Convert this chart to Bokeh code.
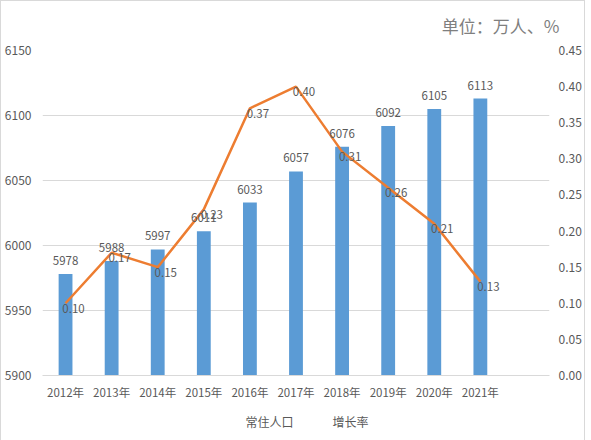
from bokeh.plotting import figure
from bokeh.layouts import column
from bokeh.models import (Range1d, LinearAxis, FixedTicker, Legend, LegendItem,
                          ColumnDataSource, Title, NumeralTickFormatter)
from bokeh.embed import file_html
from bokeh.resources import INLINE

# data
years = ["2012年", "2013年", "2014年", "2015年", "2016年",
         "2017年", "2018年", "2019年", "2020年", "2021年"]
population = [5978, 5988, 5997, 6011, 6033, 6057, 6076, 6092, 6105, 6113]
growth = [0.10, 0.17, 0.15, 0.23, 0.37, 0.40, 0.31, 0.26, 0.21, 0.13]

FONT = "Noto Sans CJK SC"
GREY = "#595959"
BLUE = "#5B9BD5"
ORANGE = "#ED7D31"

xs = [i + 0.5 for i in range(len(years))]
src = ColumnDataSource(dict(
    x=xs, pop=population, rate=growth,
    pop_lbl=[str(v) for v in population],
    rate_lbl=["%.2f" % v for v in growth],
))

p = figure(frame_width=507, frame_height=325, x_range=Range1d(0, 11), y_range=Range1d(5900, 6150),
           output_backend="svg", toolbar_location=None)
p.outline_line_color = None
p.extra_y_ranges = {"rate": Range1d(0, 0.45)}

p.vbar(x="x", top="pop", bottom=5900, width=0.3, source=src,
       fill_color=BLUE, line_color=None)
p.line(x="x", y="rate", source=src, y_range_name="rate",
       line_color=ORANGE, line_width=2.5)

# value labels
p.text(x="x", y="pop", text="pop_lbl", source=src, text_align="center",
       text_baseline="bottom", y_offset=-9, text_font_size="11.5px",
       text_color=GREY, text_font={"value": FONT})
p.text(x="x", y="rate", text="rate_lbl", source=src, y_range_name="rate",
       text_align="center", text_baseline="middle", x_offset=8, y_offset=5,
       text_font_size="11.5px", text_color=GREY, text_font={"value": FONT})

# axes
xa = p.xaxis[0]
xa.ticker = FixedTicker(ticks=xs)
xa.major_label_overrides = {x: y for x, y in zip(xs, years)}
xa.axis_line_color = "#d9d9d9"
xa.major_label_standoff = 8

ya = p.yaxis[0]
ya.ticker = FixedTicker(ticks=[5900, 5950, 6000, 6050, 6100, 6150])
ya.axis_line_color = None
ya.major_label_standoff = 11

ra = LinearAxis(y_range_name="rate", ticker=FixedTicker(ticks=[i * 0.05 for i in range(10)]),
                formatter=NumeralTickFormatter(format="0.00"))
ra.axis_line_color = None
ra.major_label_standoff = 9
p.add_layout(ra, "right")

for ax in (xa, ya, ra):
    ax.major_tick_line_color = None
    ax.minor_tick_line_color = None
    ax.major_tick_out = 0
    ax.minor_tick_out = 0
    ax.major_label_text_font = FONT
    ax.major_label_text_font_size = "12px"
    ax.major_label_text_color = GREY
xa.major_label_text_font_size = "11.5px"

p.xgrid.grid_line_color = None
p.ygrid.grid_line_color = "#d9d9d9"
p.ygrid.ticker = FixedTicker(ticks=[5950, 6000, 6050, 6100, 6150])

# title
t = Title(text="单位：万人、%", align="right", offset=-10, standoff=22, vertical_align="top",
          text_font=FONT, text_font_size="17px", text_font_style="normal", text_color="#7f7f7f")
p.add_layout(t, "above")

# legend strip under the chart
lg = figure(width=575, height=38, x_axis_type=None, y_axis_type=None,
            min_border=0, output_backend="svg", toolbar_location=None)
lg.outline_line_color = None
sw_bar = lg.vbar(x=[], top=[], width=0.3, fill_color=BLUE, line_color=None)
sw_line = lg.line(x=[], y=[], line_color=ORANGE, line_width=2.5)
legend = Legend(items=[LegendItem(label="常住人口", renderers=[sw_bar]),
                       LegendItem(label="增长率", renderers=[sw_line])],
                orientation="horizontal", location="center",
                border_line_color=None, background_fill_alpha=0,
                glyph_width=26, glyph_height=8, label_height=14, label_standoff=5, spacing=8,
                margin=0, padding=0,
                label_text_font=FONT, label_text_font_size="12px", label_text_color=GREY)
lg.add_layout(legend, "center")

page = column(p, lg, spacing=0, styles={"border": "1px solid #d9d9d9"})

open("out.html", "w").write(file_html(page, INLINE))
